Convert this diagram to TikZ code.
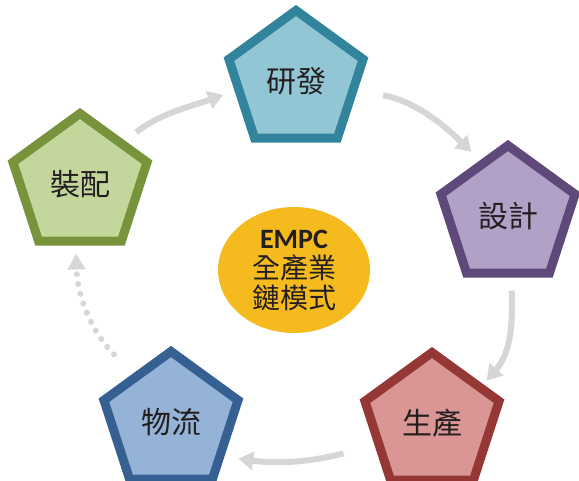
\documentclass[tikz,border=0pt]{standalone}
\usepackage{fontspec}
\setmainfont{Noto Sans CJK TC}
\newfontfamily\empcfont{Carlito}
\usetikzlibrary{shapes.geometric, arrows.meta}

\definecolor{ink}{RGB}{35,31,32}
\definecolor{flowgray}{RGB}{214,214,214}
\definecolor{coregold}{RGB}{244,186,30}
\definecolor{rdline}{RGB}{49,132,155}      \definecolor{rdfill}{RGB}{147,198,213}
\definecolor{designline}{RGB}{95,73,122}   \definecolor{designfill}{RGB}{178,161,199}
\definecolor{prodline}{RGB}{149,55,53}     \definecolor{prodfill}{RGB}{217,150,148}
\definecolor{logisline}{RGB}{55,96,146}    \definecolor{logisfill}{RGB}{149,179,215}
\definecolor{asmline}{RGB}{119,147,60}     \definecolor{asmfill}{RGB}{195,214,155}

\begin{document}
\begin{tikzpicture}[x=1pt, y=1pt,
    stage/.style={regular polygon, regular polygon sides=5, minimum size=141pt, inner sep=0pt, line width=9pt, text=ink, font=\fontsize{30}{30}\selectfont},
    flow/.style={draw=flowgray, line width=6pt, -{Triangle[width=18pt, length=15pt]}},
    backflow/.style={draw=flowgray, line width=6pt, line cap=round, dash pattern=on 0pt off 10pt, -{Triangle[width=17pt, length=16pt]}}
]
    \useasboundingbox (0,0) rectangle (579,480);

    % Stages
    \node[stage, draw=rdline, fill=rdfill] (rd) at (296,399) {研發};
    \node[stage, draw=designline, fill=designfill] (design) at (508,264) {設計};
    \node[stage, draw=prodline, fill=prodfill] (prod) at (432,57) {生產};
    \node[stage, draw=logisline, fill=logisfill] (logis) at (171,58) {物流};
    \node[stage, draw=asmline, fill=asmfill] (assembly) at (80,296) {裝配};

    % Core
    \node[ellipse, fill=coregold, minimum width=152pt, minimum height=126pt, inner sep=0pt, align=center, text=ink, font=\fontsize{28}{30}\selectfont] (core) at (294,210)
        {{\empcfont\bfseries EMPC}\\全產業\\鏈模式};

    % Arrows
    \draw[flow, shorten <=14pt, shorten >=12pt] (assembly.44) to[out=37, in=200] (rd.189);
    \draw[flow, shorten <=26pt, shorten >=12pt] (rd.-9) to[out=-10, in=135] (design.117);
    \draw[flow, shorten <=13pt, shorten >=5pt] (design.-87) to[out=-88, in=49] (prod.37);
    \draw[flow, shorten <=32pt, shorten >=14pt] (prod.201) to[out=195, in=-8] (logis.-33);
    \draw[backflow, shorten <=27pt, shorten >=8pt] (logis.128) to[out=135, in=-88] (assembly.266);
\end{tikzpicture}
\end{document}
